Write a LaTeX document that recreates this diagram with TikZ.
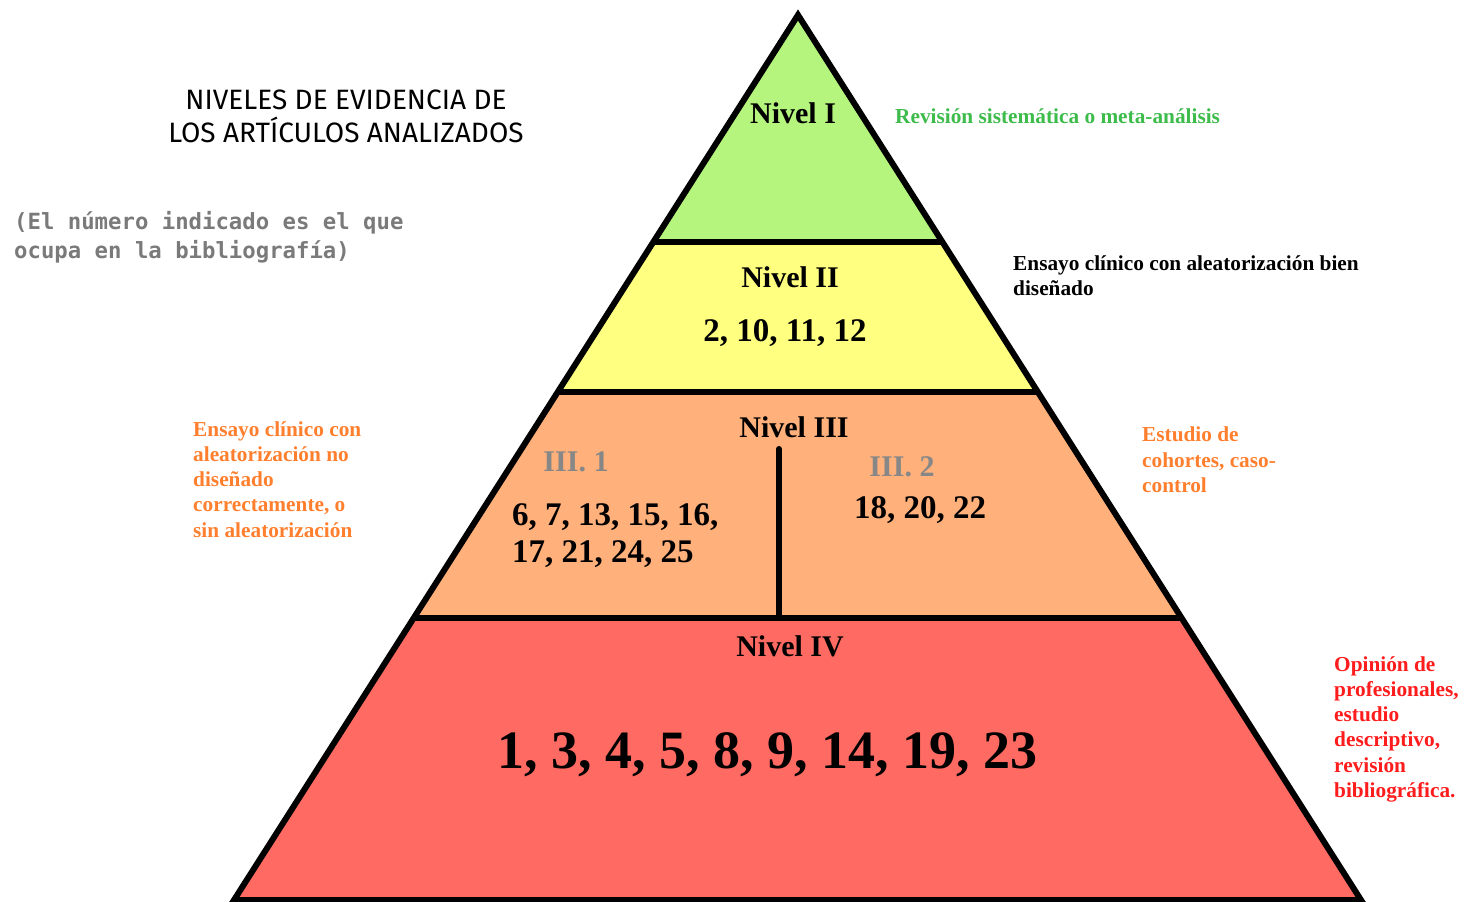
\documentclass[tikz,border=0pt]{standalone}
\usepackage{fontspec}
\setmainfont{Liberation Serif}
\newfontfamily\titlefont{Fira Sans}
\newfontfamily\notefont{DejaVu Sans Mono}
\usepackage{xcolor}
\definecolor{clLevelI}{HTML}{B5F57E}
\definecolor{clLevelII}{HTML}{FFFF80}
\definecolor{clLevelIII}{HTML}{FFB07B}
\definecolor{clLevelIV}{HTML}{FF6B63}
\definecolor{clGreenTxt}{HTML}{3DBB4B}
\definecolor{clOrangeTxt}{HTML}{FF7F2E}
\definecolor{clRedTxt}{HTML}{FF1C1C}
\definecolor{clGreyTxt}{HTML}{878787}
\definecolor{clNoteTxt}{HTML}{7A7A7A}
\usepackage{tikz}
\usetikzlibrary{calc}
\tikzset{
  edge/.style={line width=6pt, line join=miter},
  level/.style={font=\fontsize{30}{34}\selectfont\bfseries, inner sep=0pt},
  refs/.style={font=\fontsize{33}{37}\selectfont\bfseries, inner sep=0pt, align=left},
  sublevel/.style={level, text=clGreyTxt},
  side/.style={font=\fontsize{21.3}{25.3}\selectfont\bfseries, inner sep=0pt,
               align=left, anchor=north west},
}

\begin{document}
\begin{tikzpicture}[x=1pt, y=-1pt]
  \useasboundingbox (0,0) rectangle (1467,902);
  % pyramid corners and band edges
  \coordinate (top) at (798,15);
  \coordinate (bl) at (234,900);
  \coordinate (br) at (1361,900);
  \coordinate (aL) at (653,242); \coordinate (aR) at (942,242);
  \coordinate (bL) at (558,392); \coordinate (bR) at (1038,392);
  \coordinate (cL) at (414,618); \coordinate (cR) at (1182,618);
  \coordinate (divT) at (779,449); \coordinate (divB) at (779,618);

  % bands
  \fill[clLevelI] (top) -- (aL) -- (aR) -- cycle;
  \fill[clLevelII] (aL) -- (bL) -- (bR) -- (aR) -- cycle;
  \fill[clLevelIII] (bL) -- (cL) -- (cR) -- (bR) -- cycle;
  \fill[clLevelIV] (cL) -- (bl) -- (br) -- (cR) -- cycle;
  \draw[edge] (aL) -- (aR);
  \draw[edge] (bL) -- (bR);
  \draw[edge] (cL) -- (cR);
  \draw[edge, line cap=round] (divT) -- (divB);
  \draw[edge] (bl) -- (top) -- (br) -- cycle;

  % texts inside
  \node[level] (nI) at (793,113) {Nivel I};
  \node[level] (nII) at (790,277) {Nivel II};
  \node[refs] (rII) at (785,333) {2, 10, 11, 12};
  \node[level] (nIII) at (794,427) {Nivel III};
  \node[sublevel] (sIIIa) at (576,462) {III. 1};
  \node[refs, anchor=north west] (rIIIa) at (512,503) {6, 7, 13, 15, 16,\\17, 21, 24, 25};
  \node[sublevel] (sIIIb) at (902,467) {III. 2};
  \node[refs] (rIIIb) at (920,510) {18, 20, 22};
  \node[level] (nIV) at (790,646) {Nivel IV};
  \node[font=\fontsize{54}{60}\selectfont\bfseries, inner sep=0pt] (rIV) at (767,755)
    {1, 3, 4, 5, 8, 9, 14, 19, 23};

  % descriptions
  \node[side, text=clGreenTxt, anchor=west] (dI) at (895,116)
    {Revisión sistemática o meta-análisis};
  \node[side] (dII) at (1013,255) {Ensayo clínico con aleatorización bien\\diseñado};
  \node[side, text=clOrangeTxt] (dIIIa) at (193,421)
    {Ensayo clínico con\\aleatorización no\\diseñado\\correctamente, o\\sin aleatorización};
  \node[side, text=clOrangeTxt] (dIIIb) at (1142,427) {Estudio de\\cohortes, caso-\\control};
  \node[side, text=clRedTxt] (dIV) at (1334,656)
    {Opinión de\\profesionales,\\estudio\\descriptivo,\\revisión\\bibliográfica.};

  % title and note
  \node[font=\titlefont\fontsize{28}{33}\selectfont, align=center] (title) at (346,116)
    {NIVELES DE EVIDENCIA DE\\LOS ARTÍCULOS ANALIZADOS};
  \node[font=\notefont\bfseries\fontsize{22.3}{29}\selectfont, text=clNoteTxt, align=left,
        anchor=north west, inner sep=0pt] (note) at (14,211)
    {(El número indicado es el que\\ocupa en la bibliografía)};
\end{tikzpicture}
\end{document}
